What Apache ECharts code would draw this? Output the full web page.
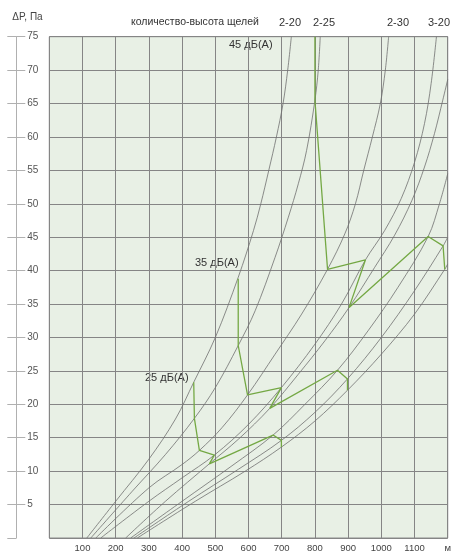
<!DOCTYPE html>
<html><head><meta charset="utf-8">
<script src="https://cdn.jsdelivr.net/npm/echarts@6/dist/echarts.min.js"></script>
<style>html,body{margin:0;padding:0;background:#fff}#c{width:454px;height:553px}</style>
</head><body><div id="c"></div>
<script>
// Tick labels
const yTicks = [5,10,15,20,25,30,35,40,45,50,55,60,65,70,75];
const xTicks = [100,200,300,400,500,600,700,800,900,1000,1100];
const topLabels = ['2-20','2-25','2-30','3-20'];
const noiseNames = ['45 дБ(А)','35 дБ(А)','25 дБ(А)'];
// Gray characteristic curves: [flow, ΔP]
const c1 = [[113,0],[200,5.5],[300,11.8],[380,17.8],[435,23.3],[500,30],[569,39],[615,46],[637,50],[661,55],[684,60],[704,65],[718,70],[729,75]];
const c2 = [[125,0],[250,7],[350,12.5],[437,17.9],[500,22.5],[569,28.8],[620,34],[680,42],[720,48],[750,53],[775,58],[800,65.5],[810,70],[816,75]];
const c3 = [[140,0],[300,7.5],[400,11],[452,13.1],[520,16.5],[597,21.4],[680,27.5],[760,33.5],[838,40.2],[890,45.5],[922,50],[947,55],[973,60],[997,65],[1012,70],[1022,75]];
const c4 = [[155,0],[300,5.5],[400,9],[497,12.4],[600,17],[699,22.5],[800,29],[880,35],[952,41.6],[1010,46],[1060,50.8],[1100,56.2],[1130,62],[1150,68],[1166,75]];
const c5 = [[230,0],[350,5.5],[482,11.1],[570,14.8],[664,19.4],[750,24.5],[830,29.5],[903,34.5],[980,40.5],[1040,45.3],[1092,50.5],[1130,55.5],[1160,60.5],[1185,65.5],[1200,68.6]];
const c6 = [[245,0],[400,5.5],[550,10.8],[674,15.4],[770,20],[868,25.1],[960,31],[1050,37.5],[1141,45.1],[1175,50],[1200,54.5]];
const c7 = [[255,0],[420,5.5],[570,10.3],[699,14.6],[800,18.8],[898,23.8],[1000,30],[1100,37],[1186,43.7],[1200,45]];
const c8 = [[265,0],[440,5.5],[590,10],[699,13.6],[800,17.5],[898,22.1],[1000,27.5],[1100,33.5],[1191,40.2],[1200,41]];
// Noise level lines
const n45 = [[800,75],[800,65.5],[838,40.2],[952,41.6],[903,34.5],[1141,45.1],[1186,43.7],[1191,40.2]];
const n35 = [[569,38.8],[569,28.8],[597,21.4],[699,22.5],[664,19.4],[868,25.1],[898,23.8],[898,22.1]];
const n25 = [[435,23.3],[437,17.9],[452,13.1],[497,12.4],[482,11.1],[674,15.4],[699,14.6],[699,13.6]];

const curves = [c1,c2,c3,c4,c5,c6,c7,c8];
const chart = echarts.init(document.getElementById('c'));
const FONT = 'Liberation Sans';
const series = curves.map(d => ({
  type:'line', data:d, smooth:0.35, showSymbol:false, silent:true,
  lineStyle:{color:'#707070', width:0.8}
}));
[n45,n35,n25].forEach(d=>{
  series.push({type:'line', data:d, showSymbol:false, silent:true,
    lineStyle:{color:'#74a844', width:1.3}, z:5});
});
const txt = (t, left, top, size) => ({type:'text', left, top, silent:true,
  style:{text:t, fontSize:size, fill:'#333', fontFamily:FONT}});
chart.setOption({
  animation:false,
  textStyle:{fontFamily:FONT},
  grid:{left:49.3, right:2.5, top:36.7, bottom:13.3, show:true, backgroundColor:'#e8f0e5', borderColor:'#8c8c8c', borderWidth:1},
  xAxis:{type:'value', min:0, max:1200, interval:100,
    axisLine:{show:false}, axisTick:{show:false},
    splitLine:{show:true, lineStyle:{color:'#858585', width:1}},
    axisLabel:{margin:5, fontSize:9.5, color:'#444', fontFamily:FONT,
      formatter:v => v===1200 ? 'м' : (xTicks.includes(v) ? String(v) : '')}},
  yAxis:[
    {type:'value', min:0, max:75, interval:5, axisLine:{show:false}, axisTick:{show:false}, axisLabel:{show:false},
      splitLine:{show:true, lineStyle:{color:'#858585', width:1}}},
    {type:'value', min:0, max:75, interval:5, position:'left', offset:33,
      name:'ΔP, Па', nameLocation:'end', nameGap:14, nameTextStyle:{fontSize:10, color:'#444', align:'left', padding:[0,0,0,-4]},
      axisLine:{show:true, lineStyle:{color:'#b0b0b0'}},
      axisTick:{show:true, inside:true, length:9, lineStyle:{color:'#b0b0b0'}},
      axisLabel:{inside:true, margin:11, fontSize:10, color:'#555', showMinLabel:false,
        formatter:v => yTicks.includes(v) ? String(v) : ''},
      splitLine:{show:false}},
    {type:'value', min:0, max:75, interval:5, position:'left', offset:33,
      axisLine:{show:false}, axisTick:{show:true, inside:false, length:9, lineStyle:{color:'#b0b0b0'}},
      axisLabel:{show:false}, splitLine:{show:false}}
  ],
  graphic:[
    txt('количество-высота щелей', 131, 17, 10.5),
    txt(topLabels[0], 279, 17, 11),
    txt(topLabels[1], 313, 17, 11),
    txt(topLabels[2], 387, 17, 11),
    txt(topLabels[3], 428, 17, 11),
    txt(noiseNames[0], 229, 39, 11),
    txt(noiseNames[1], 195, 257, 11),
    txt(noiseNames[2], 145, 372, 11)
  ],
  series
});
</script></body></html>
